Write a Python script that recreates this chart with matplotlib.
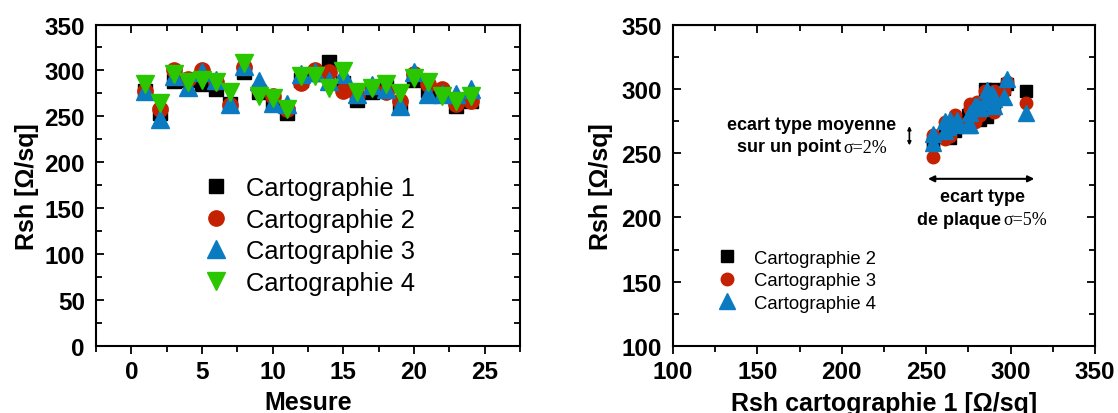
import numpy as np
import matplotlib
matplotlib.use("Agg")
import matplotlib.pyplot as plt
from matplotlib.ticker import MultipleLocator

plt.rcParams["font.family"] = ["Liberation Sans", "DejaVu Sans"]

mesure = np.arange(1, 25)
carto1 = [278, 254, 289, 290, 285, 280, 264, 298, 276, 263, 254, 290,
          296, 309, 286, 268, 276, 282, 261, 290, 279, 275, 261, 267]
carto2 = [278, 258, 300, 291, 300, 287, 262, 304, 280, 272, 258, 286,
          300, 298, 278, 273, 282, 276, 267, 296, 285, 280, 263, 267]
carto3 = [278, 247, 294, 282, 298, 290, 263, 305, 288, 265, 264, 296,
          298, 289, 296, 274, 284, 280, 261, 298, 274, 274, 274, 280]
carto4 = [285, 265, 296, 287, 290, 287, 276, 308, 272, 270, 258, 294,
          294, 281, 299, 276, 281, 285, 275, 292, 287, 272, 267, 272]

RED = "#C42100"
BLUE = "#0B7BC1"
GREEN = "#2AC600"

fig = plt.figure(figsize=(11.18, 4.14), dpi=100)
ax1 = fig.add_axes([0.0859, 0.1618, 0.3792, 0.7766])
ax2 = fig.add_axes([0.602, 0.1618, 0.3775, 0.7766])


def style(ax):
    for s in ax.spines.values():
        s.set_linewidth(1.5)
    ax.tick_params(axis="both", which="both", width=1.3, labelsize=17.5)
    ax.tick_params(axis="x", which="both", direction="out", top=False, pad=4)
    ax.tick_params(axis="y", which="both", direction="in", right=True, pad=8)
    ax.tick_params(which="major", length=6)
    ax.tick_params(which="minor", length=4)
    sec = ax.secondary_xaxis("top")
    sec.tick_params(which="both", direction="in", labeltop=False, width=1.3)
    sec.tick_params(which="major", length=6)
    sec.tick_params(which="minor", length=4)
    sec.xaxis.set_major_locator(ax.xaxis.get_major_locator())
    sec.xaxis.set_minor_locator(ax.xaxis.get_minor_locator())
    for lab in ax.get_xticklabels() + ax.get_yticklabels():
        lab.set_fontweight("bold")


# left: the four maps versus measurement index
ax1.plot(mesure, carto1, "s", color="black", ms=10, label="Cartographie 1")
ax1.plot(mesure, carto2, "o", color=RED, ms=11, label="Cartographie 2")
ax1.plot(mesure, carto3, "^", color=BLUE, ms=13, label="Cartographie 3")
ax1.plot(mesure, carto4, "v", color=GREEN, ms=13, label="Cartographie 4")
ax1.set_xlim(-2.5, 27.5)
ax1.set_ylim(0, 350)
ax1.xaxis.set_major_locator(MultipleLocator(5))
ax1.xaxis.set_minor_locator(MultipleLocator(2.5))
ax1.yaxis.set_major_locator(MultipleLocator(50))
ax1.yaxis.set_minor_locator(MultipleLocator(25))
ax1.set_xlabel("Mesure", fontsize=18, fontweight="bold", labelpad=5)
ax1.set_ylabel("Rsh [Ω/sq]", fontsize=18, fontweight="bold", labelpad=4)
ax1.legend(loc="upper left", bbox_to_anchor=(0.253, 0.529), frameon=False,
           fontsize=18.4, borderpad=0, borderaxespad=0, handlelength=1.0,
           handletextpad=0.66, labelspacing=0.3)
style(ax1)

# right: maps 2-4 versus map 1
ax2.plot(carto1, carto2, "s", color="black", ms=8, label="Cartographie 2")
ax2.plot(carto1, carto3, "o", color=RED, ms=9, label="Cartographie 3")
ax2.plot(carto1, carto4, "^", color=BLUE, ms=11, label="Cartographie 4")
ax2.set_xlim(100, 350)
ax2.set_ylim(100, 350)
ax2.xaxis.set_major_locator(MultipleLocator(50))
ax2.xaxis.set_minor_locator(MultipleLocator(25))
ax2.yaxis.set_major_locator(MultipleLocator(50))
ax2.yaxis.set_minor_locator(MultipleLocator(25))
ax2.set_xlabel("Rsh cartographie 1 [Ω/sq]", fontsize=18, fontweight="bold", labelpad=6)
ax2.set_ylabel("Rsh [Ω/sq]", fontsize=18, fontweight="bold", labelpad=6)
ax2.legend(loc="upper left", bbox_to_anchor=(0.106, 0.30), frameon=False,
           fontsize=13.3, borderpad=0, borderaxespad=0, handlelength=1.0,
           handletextpad=0.94, labelspacing=0.3)
style(ax2)

# annotations
ax2.text(182, 272.5, "ecart type moyenne", ha="center", va="center",
         fontsize=13, fontweight="bold")
ax2.text(199.5, 255, "sur un point", ha="right", va="center",
         fontsize=13, fontweight="bold")
ax2.text(201, 254.5, "σ=2%", ha="left", va="center", fontsize=13,
         family=["Liberation Serif", "DejaVu Serif"])
ax2.annotate("", xy=(240, 256), xytext=(240, 271),
             arrowprops=dict(arrowstyle="<|-|>", color="black", lw=1.2,
                             mutation_scale=5, shrinkA=0, shrinkB=0))
ax2.annotate("", xy=(251, 230), xytext=(314, 230),
             arrowprops=dict(arrowstyle="<|-|>", color="black", lw=1.5,
                             mutation_scale=9, shrinkA=0, shrinkB=0))
ax2.text(283.6, 216, "ecart type", ha="center", va="center",
         fontsize=13, fontweight="bold")
ax2.text(294.4, 198.7, "de plaque", ha="right", va="center",
         fontsize=13, fontweight="bold")
ax2.text(295.8, 198.2, "σ=5%", ha="left", va="center", fontsize=13,
         family=["Liberation Serif", "DejaVu Serif"])

plt.savefig("out.png", dpi=100)
